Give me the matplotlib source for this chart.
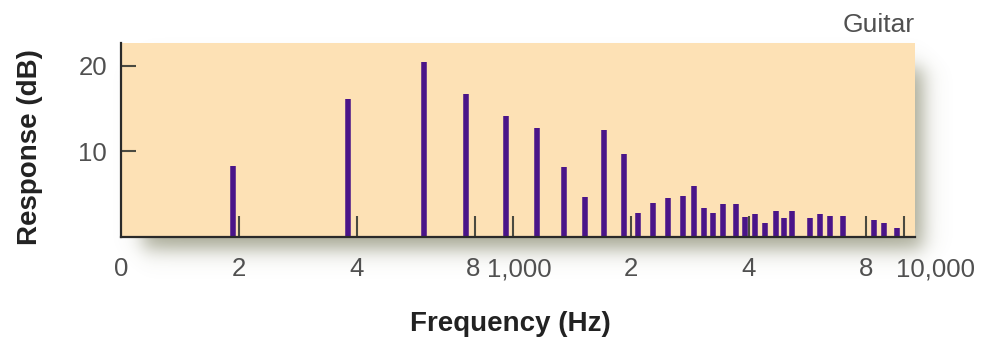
"""Harmonic spectrum of a guitar note (response in dB vs frequency)."""

import matplotlib
matplotlib.use('Agg')
import matplotlib.pyplot as plt
import matplotlib.transforms as mtransforms
from matplotlib.ticker import NullLocator
import numpy as np


# Partials
freqs = [193, 380, 593, 759, 961, 1151, 1352, 1526, 1711, 1920,
         2094, 2280, 2498, 2719, 2894, 3071, 3243, 3440, 3714, 3909,
         4163, 4406, 4692, 4927, 5164, 5733, 6078, 6448, 6974, 8356,
         8862, 9550]
response = [8.3, 16.1, 20.5, 16.7, 14.1, 12.7, 8.2, 4.65, 12.5, 9.7,
            2.75, 4.0, 4.5, 4.77, 6.0, 3.4, 2.84, 3.84, 3.84, 2.37,
            2.64, 1.67, 3.05, 2.25, 3.0, 2.17, 2.7, 2.5, 2.5, 1.94,
            1.63, 1.05]

# Axis ticks and their labels
tick_marks = [200, 400, 800, 1000, 2000, 4000, 8000, 10000]
label_freqs = [100, 200, 400, 800, 1000, 2000, 4000, 8000, 10000]
label_text = ['0', '2', '4', '8', '1,000', '2', '4', '8', '10,000']
y_ticks = [10, 20]

BAR_COLOR = '#4a1489'
FACE = '#fde1b5'
TEXT = '#505050'

plt.rcParams['font.family'] = ['Liberation Sans', 'DejaVu Sans']

W, H = 983, 343
fig = plt.figure(figsize=(W / 100, H / 100), dpi=100)

# Axes box in pixels (left, right, top, bottom)
L, R, T, B = 121, 915, 42.7, 237

# Soft drop shadow behind the plot area
bg = fig.add_axes([0, 0, 1, 1], zorder=-1)
bg.set_axis_off()
xx, yy = np.meshgrid(np.arange(W) + 0.5, np.arange(H) + 0.5)
s = 12.0
sx = 0.5 * (np.tanh((xx - (L + 22)) / s) - np.tanh((xx - (R + 8)) / s))
sy = 0.5 * (np.tanh((yy - (T + 25)) / s) - np.tanh((yy - (B + 12)) / s))
alpha = 0.62 * sx * sy
shadow = np.zeros((H, W, 4))
shadow[..., 0] = 0.44
shadow[..., 1] = 0.45
shadow[..., 2] = 0.32
shadow[..., 3] = alpha
bg.imshow(shadow, extent=[0, W, H, 0], aspect='auto')
bg.set_xlim(0, W)
bg.set_ylim(H, 0)

ax = fig.add_axes([L / W, 1 - B / H, (R - L) / W, (B - T) / H])
ax.set_facecolor(FACE)
ax.set_xscale('log')
ax.set_xlim(100, 10640)
ax.set_ylim(0, 22.7)

ax.vlines(freqs, 0, response, colors=BAR_COLOR, linewidth=4, zorder=2)

# Spines
for side in ('top', 'right'):
    ax.spines[side].set_visible(False)
for side in ('left', 'bottom'):
    ax.spines[side].set_color('#2a2a2a')
    ax.spines[side].set_linewidth(1.6)

# x ticks: short marks inside the plot, labels placed as text
ax.set_xticks(tick_marks)
ax.set_xticklabels([])
ax.xaxis.set_minor_locator(NullLocator())
ax.tick_params(axis='x', direction='in', length=15, width=1.5,
               color='#4a4a40')

trans = ax.get_xaxis_transform()
for f, t in zip(label_freqs, label_text):
    ha = 'center'
    dx = 0
    if t == '8' and f < 1000:
        dx = -2
    elif t == '1,000':
        dx = 7
    elif t == '10,000':
        ha = 'left'
        dx = -8
    tr = mtransforms.offset_copy(trans, fig=fig, x=dx, y=0, units='dots')
    ax.text(f, -0.105, t, transform=tr, ha=ha, va='top',
            fontsize=18.5, color=TEXT)

# y ticks
ax.set_yticks(y_ticks)
ax.set_yticklabels([str(v) for v in y_ticks])
ax.tick_params(axis='y', direction='in', length=11, width=1.5,
               color='#4a4a40', labelsize=18.5, labelcolor=TEXT, pad=10)

ax.set_xlabel('Frequency (Hz)', fontsize=20, fontweight='bold',
              color='#222222', va='center')
ax.xaxis.set_label_coords((510 - L) / (R - L), (B - 324) / (B - T))
ax.set_ylabel('Response (dB)', fontsize=20, fontweight='bold',
              color='#222222', va='center')
ax.yaxis.set_label_coords((30 - L) / (R - L), (B - 147.5) / (B - T))

ax.set_title('Guitar', loc='right', fontsize=19, color=TEXT, pad=8)

fig.savefig('out.png', dpi=100)
